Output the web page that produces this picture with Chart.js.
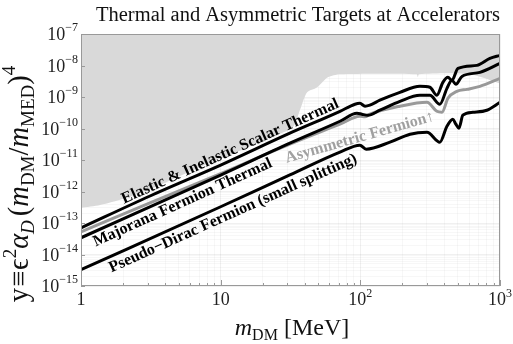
<!DOCTYPE html>
<html>
<head>
<meta charset="utf-8">
<script src="https://cdn.jsdelivr.net/npm/chart.js@4.4.0/dist/chart.umd.min.js"></script>
<style>
html, body { margin: 0; padding: 0; background: #fff; }
</style>
</head>
<body>
<canvas id="myChart" width="513" height="344"></canvas>
<script>
// masses in MeV, y = eps^2 alpha_D (m_DM/m_MED)^4
var massScalar = [1, 3.12, 10, 31.3, 71.5, 91.5, 99.3, 108, 117, 138, 192, 267, 315, 353, 390, 424, 453, 500, 683, 847, 1000];
var yScalar = [7.0e-14, 7.2e-13, 6.9e-12, 7.1e-11, 3.5e-10, 5.9e-10, 6.3e-10, 5.1e-10, 5.5e-10, 7.9e-10, 1.41e-9, 2.18e-9, 2.03e-9, 1.13e-9, 2.92e-9, 4.2e-9, 3.37e-9, 8.1e-9, 1.01e-8, 1.68e-8, 2.09e-8];

var massMajorana = [1, 10, 31.3, 71.5, 94.6, 102.6, 113, 138, 192, 267, 315, 371, 417, 453, 483, 534, 718, 1000];
var yMajorana = [3.4e-14, 3.33e-12, 3.43e-11, 1.70e-10, 3.05e-10, 2.84e-10, 2.64e-10, 3.8e-10, 7.3e-10, 1.13e-9, 1.13e-9, 5.9e-10, 1.88e-9, 3.4e-9, 2.52e-9, 4.5e-9, 6.05e-9, 1.16e-8];

var massAsym = [1, 3.12, 10, 31.3, 71.5, 99.3, 108, 117, 192, 300, 353, 384, 424, 491, 580, 718, 1000];
var yAsym = [5.25e-14, 4.36e-13, 3.68e-12, 3.18e-11, 1.37e-10, 2.45e-10, 2.35e-10, 2.84e-10, 5.1e-10, 6.8e-10, 3.52e-10, 3.28e-10, 9.1e-10, 1.51e-9, 1.75e-9, 2.18e-9, 3.9e-9];

var massDirac = [1, 10, 31.3, 71.5, 99.3, 110, 163, 227, 300, 371, 417, 460, 483, 508, 542, 640, 805, 1000];
var yDirac = [3.28e-15, 3.28e-13, 3.35e-12, 1.78e-11, 2.96e-11, 2.21e-11, 3.68e-11, 6.6e-11, 7.6e-11, 3.68e-11, 1.18e-10, 1.97e-10, 1.37e-10, 1.02e-10, 2.64e-10, 3.28e-10, 3.8e-10, 6.8e-10];

// lower edge of the excluded (gray) region
var massExcl = [1, 1.37, 2.24, 3.68, 7.1, 13.8, 22.5, 32.9, 36.9, 41.5, 48.9, 58.6, 71.5, 253, 258, 263, 609, 1000];
var yExcl = [3.0e-13, 3.7e-13, 6.8e-13, 1.6e-12, 6.0e-12, 2.0e-11, 5.2e-11, 1.1e-10, 3.8e-10, 1.4e-9, 2.0e-9, 4.2e-9, 5.3e-9, 5.3e-9, 4.3e-9, 5.3e-9, 5.3e-9, 2.7e-9];

var xTickValues = [1, 10, 100, 1000];
var xTickExps = ['', '', '2', '3'];
var yTickExps = [-15, -14, -13, -12, -11, -10, -9, -8, -7];

var SERIF = '"Liberation Serif", "DejaVu Serif", serif';

function pts(ms, ys) {
    var out = [];
    for (var i = 0; i < ms.length; i++) out.push({x: ms[i], y: ys[i]});
    return out;
}

function logInterp(ms, ys, m) {
    for (var i = 0; i < ms.length - 1; i++) {
        if (m >= ms[i] && m <= ms[i + 1]) {
            var t = (Math.log(m) - Math.log(ms[i])) / (Math.log(ms[i + 1]) - Math.log(ms[i]));
            return Math.exp(Math.log(ys[i]) + t * (Math.log(ys[i + 1]) - Math.log(ys[i])));
        }
    }
    return ys[ys.length - 1];
}

var curveLabels = [
    {text: 'Elastic & Inelastic Scalar Thermal', ms: massScalar, ys: yScalar, from: 1.97, to: 77.6, off: -4, color: '#000'},
    {text: 'Majorana Fermion Thermal', ms: massMajorana, ys: yMajorana, from: 1.16, to: 21.5, off: 14, color: '#000'},
    {text: 'Pseudo\u2212Dirac Fermion (small splitting)', ms: massDirac, ys: yDirac, from: 1.49, to: 87, off: 15, color: '#000'},
    {text: 'Asymmetric Fermion\u2191', ms: massAsym, ys: yAsym, from: 27.9, to: 316, off: 16, color: '#a0a0a0'}
];

function drawRuns(ctx, runs, x, y, align) {
    var total = 0;
    runs.forEach(function(r) { ctx.font = r.font; r.w = ctx.measureText(r.t).width + (r.gap || 0); total += r.w; });
    var start = align === 'center' ? x - total / 2 : (align === 'right' ? x - total : x);
    ctx.textAlign = 'left';
    runs.forEach(function(r) { ctx.font = r.font; ctx.fillText(r.t, start, y + (r.dy || 0)); start += r.w; });
}

function allLogTicks(min, max) {
    var t = [];
    for (var e = Math.round(Math.log10(min)); e <= Math.round(Math.log10(max)); e++) {
        for (var k = 1; k <= 9; k++) {
            var v = k * Math.pow(10, e);
            if (v >= min * 0.999 && v <= max * 1.001) t.push({value: v});
        }
    }
    return t;
}

function isDecade(v) {
    var l = Math.log10(v);
    return Math.abs(l - Math.round(l)) < 1e-6;
}

var decorPlugin = {
    id: 'decor',
    afterDraw: function(chart) {
        var ctx = chart.ctx;
        var a = chart.chartArea;
        var xs = chart.scales.x, ys = chart.scales.y;

        ctx.save();
        ctx.beginPath();
        ctx.rect(a.left, a.top, a.right - a.left, a.bottom - a.top);
        ctx.clip();
        // curve labels
        curveLabels.forEach(function(l) {
            var x1 = xs.getPixelForValue(l.from), y1 = ys.getPixelForValue(logInterp(l.ms, l.ys, l.from));
            var x2 = xs.getPixelForValue(l.to), y2 = ys.getPixelForValue(logInterp(l.ms, l.ys, l.to));
            ctx.save();
            ctx.translate((x1 + x2) / 2, (y1 + y2) / 2);
            ctx.rotate(Math.atan2(y2 - y1, x2 - x1));
            ctx.font = 'bold 16px ' + SERIF;
            ctx.textAlign = 'center';
            ctx.fillStyle = l.color;
            ctx.fillText(l.text, 0, l.off);
            ctx.restore();
        });
        ctx.restore();

        // frame
        ctx.save();
        ctx.strokeStyle = '#999';
        ctx.lineWidth = 1;
        ctx.strokeRect(Math.round(a.left) + 0.5, Math.round(a.top) + 0.5, Math.round(a.right - a.left) - 1, Math.round(a.bottom - a.top) - 1);
        // frame ticks
        ctx.beginPath();
        xs.ticks.forEach(function(t) {
            var px = Math.round(xs.getPixelForValue(t.value)) + 0.5;
            var len = isDecade(t.value) ? 6 : 3;
            ctx.moveTo(px, a.bottom);
            ctx.lineTo(px, a.bottom - len);
        });
        yTickExps.forEach(function(e) {
            var py = Math.round(ys.getPixelForValue(Math.pow(10, e))) + 0.5;
            ctx.moveTo(a.left, py);
            ctx.lineTo(a.left + 4, py);
        });
        ctx.stroke();

        ctx.fillStyle = '#222';
        ctx.textBaseline = 'alphabetic';
        // y tick labels
        yTickExps.forEach(function(e) {
            var py = ys.getPixelForValue(Math.pow(10, e));
            drawRuns(ctx, [
                {t: '10', font: '18px ' + SERIF},
                {t: '\u2212' + (-e), font: '12px ' + SERIF, dy: -9}
            ], a.left - 3, py + 6, 'right');
        });
        // x tick labels
        xTickValues.forEach(function(v, i) {
            var px = xs.getPixelForValue(v);
            var runs;
            if (xTickExps[i]) {
                runs = [{t: '10', font: '18px ' + SERIF}, {t: xTickExps[i], font: '12px ' + SERIF, dy: -8}];
            } else {
                runs = [{t: String(v), font: '18px ' + SERIF}];
            }
            drawRuns(ctx, runs, px, a.bottom + 19, 'center');
        });

        // title
        ctx.fillStyle = '#111';
        ctx.font = '20.5px ' + SERIF;
        ctx.textAlign = 'center';
        ctx.fillText('Thermal and Asymmetric Targets at Accelerators', 298, 21);

        // x axis title
        drawRuns(ctx, [
            {t: 'm', font: 'italic 24px ' + SERIF},
            {t: 'DM', font: '16px ' + SERIF, dy: 5},
            {t: ' [MeV]', font: '24px ' + SERIF}
        ], 292, 335, 'center');

        // y axis title
        ctx.save();
        ctx.translate(28, 184);
        ctx.rotate(-Math.PI / 2);
        var big = '28.5px ' + SERIF, small = '19px ' + SERIF;
        drawRuns(ctx, [
            {t: 'y', font: big, gap: 1},
            {t: '\u2261', font: big, gap: 1},
            {t: '\u03f5', font: big},
            {t: '2', font: small, dy: -12},
            {t: '\u03b1', font: 'italic ' + big},
            {t: 'D', font: 'italic ' + small, dy: 6, gap: 4},
            {t: '(', font: big},
            {t: 'm', font: 'italic ' + big},
            {t: 'DM', font: small, dy: 6},
            {t: '/', font: big},
            {t: 'm', font: 'italic ' + big},
            {t: 'MED', font: small, dy: 6},
            {t: ')', font: big},
            {t: '4', font: small, dy: -13}
        ], 0, 0, 'center');
        ctx.restore();
        ctx.restore();
    }
};

function lineSet(label, ms, ys, color) {
    return {
        label: label,
        data: pts(ms, ys),
        borderColor: color,
        borderWidth: 3,
        pointRadius: 0,
        fill: false,
        cubicInterpolationMode: 'monotone'
    };
}

function gridColor(c) {
    if (!c.tick) return 'rgba(0,0,0,0.03)';
    return isDecade(c.tick.value) ? 'rgba(0,0,0,0.06)' : 'rgba(0,0,0,0.03)';
}

var ctx = document.getElementById('myChart').getContext('2d');
var myChart = new Chart(ctx, {
    type: 'line',
    data: {
        datasets: [
            lineSet('Elastic & Inelastic Scalar Thermal', massScalar, yScalar, '#000'),
            lineSet('Majorana Fermion Thermal', massMajorana, yMajorana, '#000'),
            lineSet('Asymmetric Fermion', massAsym, yAsym, '#999'),
            lineSet('Pseudo-Dirac Fermion (small splitting)', massDirac, yDirac, '#000'),
            {
                label: 'excluded',
                data: pts(massExcl, yExcl),
                borderWidth: 0,
                borderColor: 'rgba(0,0,0,0)',
                backgroundColor: '#d9d9d9',
                pointRadius: 0,
                fill: 'end',
                tension: 0.25
            }
        ]
    },
    options: {
        responsive: false,
        animation: false,
        layout: {padding: {left: 81, right: 13, top: 34, bottom: 58}},
        plugins: {
            legend: {display: false},
            tooltip: {enabled: false},
            title: {display: false}
        },
        scales: {
            x: {
                type: 'logarithmic',
                min: 1,
                max: 1000,
                afterBuildTicks: function(s) { s.ticks = allLogTicks(1, 1000); },
                ticks: {display: false},
                grid: {drawTicks: false, color: gridColor},
                border: {display: false}
            },
            y: {
                type: 'logarithmic',
                min: 1e-15,
                max: 1e-7,
                afterBuildTicks: function(s) { s.ticks = allLogTicks(1e-15, 1e-7); },
                ticks: {display: false},
                grid: {drawTicks: false, color: gridColor},
                border: {display: false}
            }
        }
    },
    plugins: [decorPlugin]
});
</script>
</body>
</html>
